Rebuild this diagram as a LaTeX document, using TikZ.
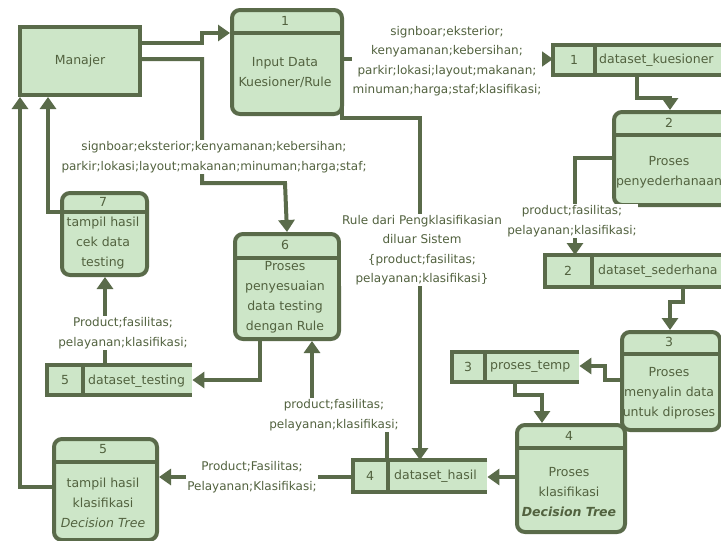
\documentclass[tikz,border=0pt]{standalone}
\usepackage{fontspec}
\setmainfont{DejaVu Sans}
\usetikzlibrary{arrows.meta}
\definecolor{dg}{HTML}{5A6B4A}
\definecolor{tg}{HTML}{52623F}
\definecolor{lg}{HTML}{CDE6C8}
\begin{document}
\begin{tikzpicture}[x=1pt,y=-1pt,
  line/.style={draw=dg,line width=4pt},
  arr/.style={draw=dg,line width=4pt,-{Triangle[length=12pt,width=16pt]}},
  proc/.style={draw=dg,fill=lg,line width=4pt,rounded corners=8pt,inner sep=0pt,anchor=north west},
  ent/.style={draw=dg,fill=lg,line width=4pt,inner sep=0pt,anchor=north west},
  storebg/.style={fill=lg,inner sep=0pt,anchor=north west},
  txt/.style={text=tg,font=\fontsize{12.5}{20}\selectfont,align=center,inner sep=0pt},
  stxt/.style={text=tg,font=\fontsize{12.5}{20}\selectfont,inner sep=0pt,anchor=west},
  lbl/.style={text=tg,font=\fontsize{12}{19.5}\selectfont,align=center,fill=white,inner sep=1pt}]
\useasboundingbox (0,0) rectangle (721,541);
\clip (0,0) rectangle (721,541);
\fill[white] (0,0) rectangle (721,541);

% entity
\node[ent,minimum width=120pt,minimum height=68pt] (man) at (18,25) {};
\node[txt] (mant) at (man.center) {Manajer};

% processes
\node[proc,minimum width=110pt,minimum height=104pt] (p1) at (230,8) {};
\draw[line] (p1.west|-0,33) -- (p1.east|-0,33);
\node[txt] (p1n) at (285,21) {1};
\node[txt] (p1t) at (285,73) {Input Data\\Kuesioner/Rule};

\node[proc,minimum width=115pt,minimum height=93pt] (p2) at (612,110) {};
\draw[line] (p2.west|-0,135) -- (p2.east|-0,135);
\node[txt] (p2n) at (669,123) {2};
\node[txt] (p2t) at (669,172) {Proses\\penyederhanaan};

\node[proc,minimum width=98pt,minimum height=98pt] (p3) at (620,330) {};
\draw[line] (p3.west|-0,354) -- (p3.east|-0,354);
\node[txt] (p3n) at (669,342) {3};
\node[txt] (p3t) at (669,393) {Proses\\menyalin data\\untuk diproses};

\node[proc,minimum width=108pt,minimum height=107pt] (p4) at (515,423) {};
\draw[line] (p4.west|-0,448) -- (p4.east|-0,448);
\node[txt] (p4n) at (569,436) {4};
\node[txt] (p4t) at (569,492) {Proses\\klasifikasi\\\textbf{\textit{Decision Tree}}};

\node[proc,minimum width=103pt,minimum height=101pt] (p5) at (52,437) {};
\draw[line] (p5.west|-0,462) -- (p5.east|-0,462);
\node[txt] (p5n) at (103,449) {5};
\node[txt] (p5t) at (103,503) {tampil hasil\\klasifikasi\\\textit{Decision Tree}};

\node[proc,minimum width=104pt,minimum height=105pt] (p6) at (233,232) {};
\draw[line] (p6.west|-0,258) -- (p6.east|-0,258);
\node[txt] (p6n) at (285,245) {6};
\node[txt] (p6t) at (285,297) {Proses\\penyesuaian\\data testing\\dengan Rule};

\node[proc,minimum width=85pt,minimum height=82pt] (p7) at (60,191) {};
\draw[line] (p7.west|-0,212) -- (p7.east|-0,212);
\node[txt] (p7n) at (103,202) {7};
\node[txt] (p7t) at (103,243) {tampil hasil\\cek data\\testing};

% data stores
\node[storebg,minimum width=175pt,minimum height=30pt] (ds1) at (553,45) {};
\draw[line] (ds1.north east) -- (ds1.north west) -- (ds1.south west) -- (ds1.south east);
\draw[line] (595,45) -- (595,75);
\node[txt] (ds1n) at (574,60) {1};
\node[stxt] (ds1t) at (599,60) {dataset\_kuesioner};

\node[storebg,minimum width=183pt,minimum height=32pt] (ds2) at (545,255) {};
\draw[line] (ds2.north east) -- (ds2.north west) -- (ds2.south west) -- (ds2.south east);
\draw[line] (592,255) -- (592,287);
\node[txt] (ds2n) at (568,271) {2};
\node[stxt] (ds2t) at (598,271) {dataset\_sederhana};

\node[storebg,minimum width=127pt,minimum height=30pt] (ds3) at (452,352) {};
\draw[line] (ds3.north east) -- (ds3.north west) -- (ds3.south west) -- (ds3.south east);
\draw[line] (485,352) -- (485,382);
\node[txt] (ds3n) at (468,367) {3};
\node[stxt] (ds3t) at (490,367) {proses\_temp};

\node[storebg,minimum width=134pt,minimum height=32pt] (ds4) at (353,460) {};
\draw[line] (ds4.north east) -- (ds4.north west) -- (ds4.south west) -- (ds4.south east);
\draw[line] (388,460) -- (388,492);
\node[txt] (ds4n) at (370,476) {4};
\node[stxt] (ds4t) at (394,476) {dataset\_hasil};

\node[storebg,minimum width=145pt,minimum height=30pt] (ds5) at (47,365) {};
\draw[line] (ds5.north east) -- (ds5.north west) -- (ds5.south west) -- (ds5.south east);
\draw[line] (83,365) -- (83,395);
\node[txt] (ds5n) at (65,380) {5};
\node[stxt] (ds5t) at (88,381) {dataset\_testing};

% connectors
\draw[arr] (man.east|-0,43) -- (202,43) -- (202,33) -- (p1.west|-0,33);
\draw[arr] (man.east|-0,59) -- (202,59) -- (202,183) -- (285,183) -- (p6.north);
\draw[arr] (p1.east|-0,59) -- (ds1.west|-0,59);
\draw[arr] (p1.east|-0,59) -- (342,59) -- (342,118) -- (420,118) -- (ds4.north west-|420,0);
\draw[arr] (ds1.south west-|637,0) -- (637,98) -- (670,98) -- (p2.north west-|670,0);
\draw[arr] (p2.west|-0,158) -- (575,158) -- (ds2.north west-|575,0);
\draw[arr] (ds2.south west-|683,0) -- (683,302) -- (670,302) -- (p3.north west-|670,0);
\draw[arr] (p3.west|-0,380) -- (605,380) -- (605,366) -- (ds3.east|-0,366);
\draw[arr] (ds3.south west-|515,0) -- (515,395) -- (542,395) -- (p4.north west-|542,0);
\draw[arr] (p4.west|-0,477) -- (ds4.east|-0,477);
\draw[arr] (ds4.west|-0,477) -- (p5.east|-0,477);
\draw[arr] (ds4.north west-|387,0) -- (387,414) -- (312,414) -- (p6.south west-|312,0);
\draw[arr] (p6.south west-|260,0) -- (260,380) -- (ds5.east|-0,380);
\draw[arr] (ds5.north west-|105,0) -- (p7.south west-|105,0);
\draw[arr] (p7.west|-0,212) -- (48,212) -- (man.south west-|48,0);
\draw[arr] (p5.west|-0,487) -- (20,487) -- (man.south west-|20,0);

% labels
\node[lbl] (l1) at (214,157) {signboar;eksterior;kenyamanan;kebersihan;\\parkir;lokasi;layout;makanan;minuman;harga;staf;};
\node[lbl] (l2) at (447,61) {signboar;eksterior;\\kenyamanan;kebersihan;\\parkir;lokasi;layout;makanan;\\minuman;harga;staf;klasifikasi;};
\node[lbl] (l3) at (422,250) {Rule dari Pengklasifikasian\\diluar Sistem\\\{product;fasilitas;\\pelayanan;klasifikasi\}};
\node[lbl] (l4) at (572,221) {product;fasilitas;\\pelayanan;klasifikasi;};
\node[lbl] (l5) at (123,333) {Product;fasilitas;\\pelayanan;klasifikasi;};
\node[lbl] (l6) at (334,415) {product;fasilitas;\\pelayanan;klasifikasi;};
\node[lbl] (l7) at (252,477) {Product;Fasilitas;\\Pelayanan;Klasifikasi;};
\end{tikzpicture}
\end{document}
